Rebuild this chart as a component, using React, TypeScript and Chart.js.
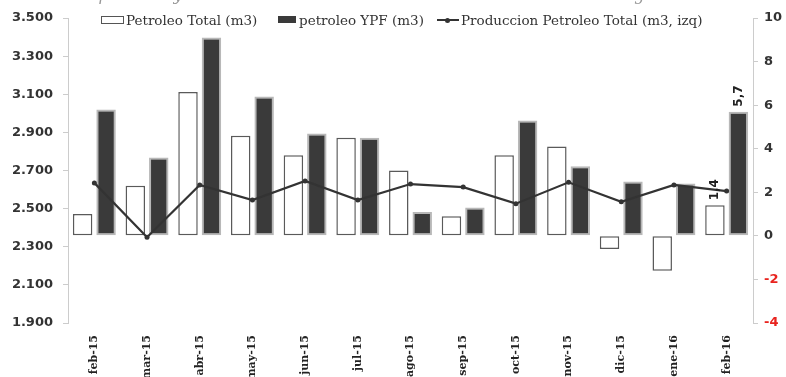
import React, { useEffect, useRef } from "react";
import { Chart, registerables } from "chart.js";

Chart.register(...registerables);

const categories = [
  "feb-15", "mar-15", "abr-15", "may-15", "jun-15", "jul-15", "ago-15",
  "sep-15", "oct-15", "nov-15", "dic-15", "ene-16", "feb-16",
];

// Variación interanual (%), eje derecho
const petroleoTotal = [1.0, 2.3, 6.6, 4.6, 3.7, 4.5, 3.0, 0.9, 3.7, 4.1, -0.6, -1.6, 1.4];
const petroleoYPF = [5.8, 3.6, 9.1, 6.4, 4.7, 4.5, 1.1, 1.3, 5.3, 3.2, 2.5, 2.4, 5.7];

// Producción Petróleo Total (m3), eje izquierdo
const produccion = [2635, 2350, 2624, 2545, 2645, 2545, 2629, 2613, 2526, 2638, 2536, 2624, 2592];

const leftTicks = { min: 1900, max: 3500, step: 200 };
const rightTicks = { min: -4, max: 10, step: 2 };

const seriesNames = [
  "Petroleo Total (m3)",
  "petroleo YPF (m3)",
  "Produccion Petroleo Total (m3, izq)",
];

const titleText = "Extracción primaria y secundaria de Petróleo. Datos de la Secretaría de Energía";

const fmtThousands = (v: number) =>
  String(v).replace(/\B(?=(\d{3})+(?!\d))/g, ".");

const lastLabels = {
  id: "lastLabels",
  afterDatasetsDraw(chart: any) {
    const ctx = chart.ctx;
    ctx.save();
    ctx.font = 'bold 12px "DejaVu Sans"';
    ctx.fillStyle = "#222";
    ctx.textAlign = "left";
    ctx.textBaseline = "middle";
    [0, 1].forEach((di) => {
      const meta = chart.getDatasetMeta(di);
      const idx = meta.data.length - 1;
      const el = meta.data[idx];
      const v = chart.data.datasets[di].data[idx] as number;
      const txt = v.toFixed(1).replace(".", ",");
      ctx.save();
      ctx.translate(el.x, el.y - 5);
      ctx.rotate(-Math.PI / 2);
      ctx.fillText(txt, 0, 0);
      ctx.restore();
    });
    ctx.restore();
  },
};

export default function App() {
  const ref = useRef<HTMLCanvasElement | null>(null);

  useEffect(() => {
    if (!ref.current) return;
    const chart = new Chart(ref.current, {
      type: "bar",
      data: {
        labels: categories,
        datasets: [
          {
            type: "bar",
            label: seriesNames[0],
            data: petroleoTotal,
            yAxisID: "y1",
            backgroundColor: "#ffffff",
            borderColor: "#5a5a5a",
            borderWidth: 1.5,
            borderSkipped: false,
            categoryPercentage: 0.89,
            barPercentage: 0.83,
            order: 1,
          } as any,
          {
            type: "bar",
            label: seriesNames[1],
            data: petroleoYPF,
            yAxisID: "y1",
            backgroundColor: "#3a3a3a",
            borderColor: "#b8b8b8",
            borderWidth: 2,
            borderSkipped: false,
            categoryPercentage: 0.89,
            barPercentage: 0.83,
            order: 1,
          } as any,
          {
            type: "line",
            label: seriesNames[2],
            data: produccion,
            yAxisID: "y",
            borderColor: "#333333",
            backgroundColor: "#333333",
            borderWidth: 2.2,
            pointRadius: 2.5,
            pointBackgroundColor: "#333333",
            pointBorderWidth: 0,
            tension: 0,
            order: 0,
          } as any,
        ],
      },
      options: {
        responsive: false,
        animation: false,
        layout: { padding: { top: 18, left: 0, right: 0, bottom: 0 } },
        plugins: {
          legend: { display: false },
          tooltip: { enabled: false },
          title: { display: false },
        },
        scales: {
          x: {
            grid: { display: false, drawTicks: false },
            border: { display: false },
            ticks: {
              autoSkip: false,
              minRotation: 90,
              maxRotation: 90,
              padding: 12,
              color: "#222",
              font: { family: '"DejaVu Serif"', size: 11, weight: "bold" },
            },
            afterFit: (s: any) => {
              s.height = 54;
            },
          },
          y: {
            position: "left",
            min: leftTicks.min,
            max: leftTicks.max,
            grid: { drawOnChartArea: false, tickLength: 5, color: "#cccccc" },
            border: { color: "#cccccc" },
            ticks: {
              stepSize: leftTicks.step,
              padding: 10,
              color: "#333",
              font: { family: '"DejaVu Sans"', size: 13, weight: "bold" },
              callback: (v: any) => fmtThousands(Number(v)),
            },
            afterFit: (s: any) => {
              s.width = 68;
            },
          },
          y1: {
            position: "right",
            min: rightTicks.min,
            max: rightTicks.max,
            grid: { drawOnChartArea: false, tickLength: 5, color: "#cccccc" },
            border: { color: "#cccccc" },
            ticks: {
              stepSize: rightTicks.step,
              padding: 6,
              color: (c: any) => (c.tick && c.tick.value < 0 ? "#e8231e" : "#333"),
              font: { family: '"DejaVu Sans"', size: 13, weight: "bold" },
            },
            afterFit: (s: any) => {
              s.width = 33;
            },
          },
        },
      } as any,
      plugins: [lastLabels],
    });
    return () => chart.destroy();
  }, []);

  const legendText: React.CSSProperties = {
    position: "absolute",
    top: 12,
    fontFamily: '"DejaVu Serif"',
    fontSize: 13.5,
    lineHeight: "16px",
    color: "#333",
    whiteSpace: "nowrap",
  };

  return (
    <div
      style={{
        position: "fixed",
        left: 0,
        top: 0,
        width: 786,
        height: 377,
        background: "#fff",
        overflow: "hidden",
      }}
    >
      <canvas ref={ref} width={786} height={377} style={{ display: "block" }} />
      <div
        style={{
          position: "absolute",
          top: -15,
          left: 6,
          fontFamily: '"DejaVu Serif"',
          fontStyle: "italic",
          fontSize: 16,
          lineHeight: "20px",
          color: "#999",
          whiteSpace: "nowrap",
        }}
      >
        {titleText}
      </div>
      {/* legend */}
      <div
        style={{
          position: "absolute",
          left: 101,
          top: 16,
          width: 23,
          height: 8,
          border: "1.5px solid #555",
          boxSizing: "border-box",
          background: "#fff",
        }}
      />
      <div style={{ ...legendText, left: 126 }}>{seriesNames[0]}</div>
      <div
        style={{
          position: "absolute",
          left: 278,
          top: 16,
          width: 18,
          height: 7,
          background: "#3a3a3a",
        }}
      />
      <div style={{ ...legendText, left: 299 }}>{seriesNames[1]}</div>
      <div
        style={{
          position: "absolute",
          left: 437,
          top: 19,
          width: 22,
          height: 2,
          background: "#333",
        }}
      />
      <div
        style={{
          position: "absolute",
          left: 445,
          top: 17.5,
          width: 5,
          height: 5,
          borderRadius: "50%",
          background: "#333",
        }}
      />
      <div style={{ ...legendText, left: 461 }}>{seriesNames[2]}</div>
    </div>
  );
}
